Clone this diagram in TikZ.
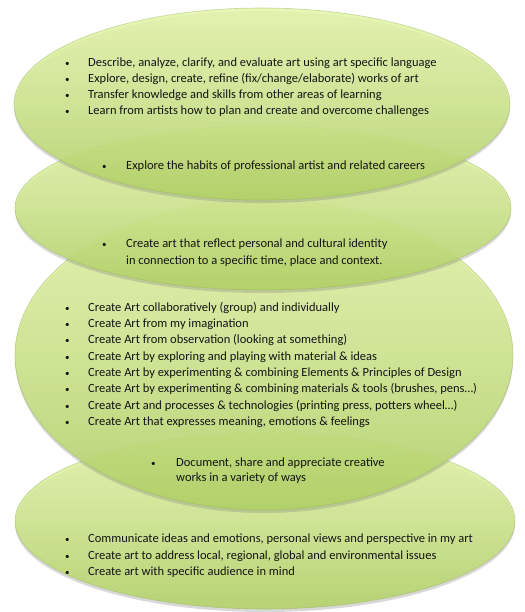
\documentclass[tikz,border=0pt]{standalone}
\usepackage{fontspec}
\setmainfont{Carlito}
\usetikzlibrary{shapes.geometric,shadows}
\definecolor{gtop}{RGB}{230,246,170}
\definecolor{gmid}{RGB}{206,230,140}
\definecolor{gbot}{RGB}{178,210,100}
\definecolor{gedge}{RGB}{150,178,90}
\definecolor{ink}{RGB}{20,20,20}
\newcommand\bitem[5]{%
  \node[bul] (#1b) at (#2,#4+4.5) {\textbullet};
  \node[txt] (#1) at (#3,#4+4.5) {#5};}
\newcommand\contline[4]{%
  \node[txt] (#1) at (#2,#3+4.5) {#4};}
\begin{document}
\begin{tikzpicture}[x=1pt,y=-1pt,
  ell/.style={ellipse, inner sep=0pt, top color=gtop, bottom color=gbot, middle color=gmid,
    fill opacity=0.86, draw=gedge, draw opacity=0.5, line width=0.6pt,
    drop shadow={opacity=0.3, shadow xshift=0pt, shadow yshift=-3pt}},
  txt/.style={anchor=base west, inner sep=0pt, text=ink, font=\fontsize{12.5}{14}\selectfont},
  bul/.style={anchor=base west, inner sep=0pt, text=ink, font=\fontsize{9}{10}\selectfont}]
\fill[white] (0,0) rectangle (524,612);
\useasboundingbox (0,0) rectangle (524,612);
\node[ell, minimum width=500pt, minimum height=176pt] (e4) at (265,521) {};
\node[ell, minimum width=498pt, minimum height=310pt] (e3) at (264,355) {};
\node[ell, minimum width=496pt, minimum height=164pt] (e2) at (263,208) {};
\node[ell, minimum width=496pt, minimum height=192pt] (e1) at (262,104) {};
% ellipse 1 list
\bitem{a1}{65}{88}{62}{Describe, analyze, clarify, and evaluate art using art specific language}
\bitem{a2}{65}{88}{78}{Explore, design, create, refine (fix/change/elaborate) works of art}
\bitem{a3}{65}{88}{94}{Transfer knowledge and skills from other areas of learning}
\bitem{a4}{65}{88}{110}{Learn from artists how to plan and create and overcome challenges}
% overlap 1-2
\bitem{b1}{102}{126}{165}{Explore the habits of professional artist and related careers}
% overlap 2-3
\bitem{c1}{102}{126}{243}{Create art that reflect personal and cultural identity}
\contline{c2}{126}{260}{in connection to a specific time, place and context.}
% ellipse 3 list
\bitem{d1}{65}{88}{307}{Create Art collaboratively (group) and individually}
\bitem{d2}{65}{88}{323}{Create Art from my imagination}
\bitem{d3}{65}{88}{339}{Create Art from observation (looking at something)}
\bitem{d4}{65}{88}{356}{Create Art by exploring and playing with material \& ideas}
\bitem{d5}{65}{88}{372}{Create Art by experimenting \& combining Elements \& Principles of Design}
\bitem{d6}{65}{88}{388}{Create Art by experimenting \& combining materials \& tools (brushes, pens…)}
\bitem{d7}{65}{88}{405}{Create Art and processes \& technologies (printing press, potters wheel…)}
\bitem{d8}{65}{88}{421}{Create Art that expresses meaning, emotions \& feelings}
% overlap 3-4
\bitem{f1}{151}{176}{462}{Document, share and appreciate creative}
\contline{f2}{176}{477}{works in a variety of ways}
% ellipse 4 list
\bitem{g1}{65}{88}{538}{Communicate ideas and emotions, personal views and perspective in my art}
\bitem{g2}{65}{88}{555}{Create art to address local, regional, global and environmental issues}
\bitem{g3}{65}{88}{571}{Create art with specific audience in mind}
\end{tikzpicture}
\end{document}
